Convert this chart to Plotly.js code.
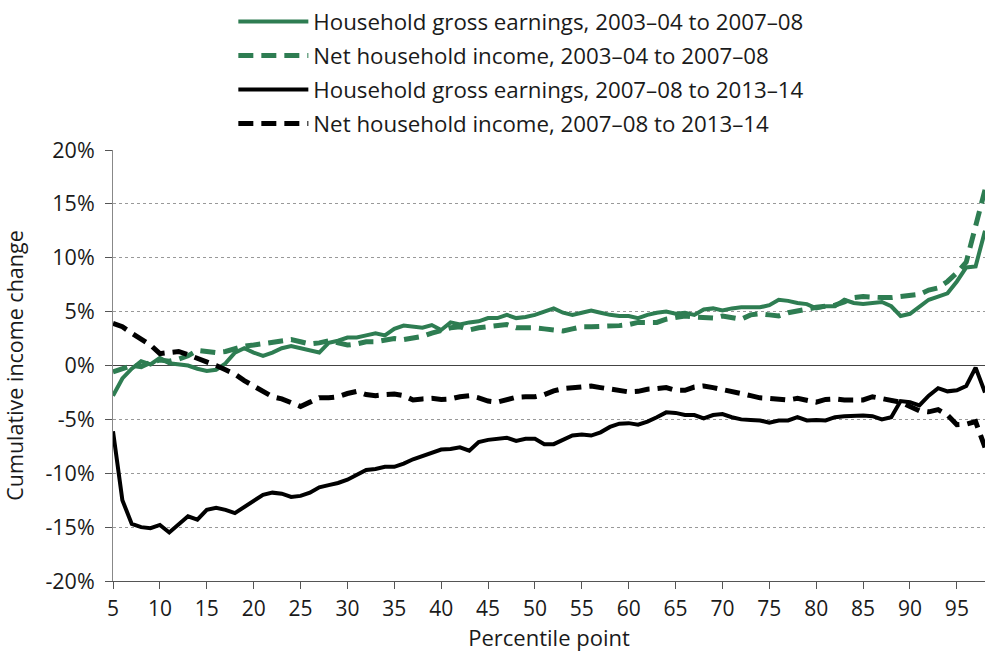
<!DOCTYPE html>
<html>
<head>
<meta charset="utf-8">
<script src="https://cdn.plot.ly/plotly-3.0.1.min.js"></script>
<style>html,body{margin:0;padding:0;background:#fff;}#chart{width:986px;height:652px;}</style>
</head>
<body>
<div id="chart"></div>
<script>
// Percentile points 5..98
const percentiles = [5,6,7,8,9,10,11,12,13,14,15,16,17,18,19,20,21,22,23,24,25,26,27,28,29,30,31,32,33,34,35,36,37,38,39,40,41,42,43,44,45,46,47,48,49,50,51,52,53,54,55,56,57,58,59,60,61,62,63,64,65,66,67,68,69,70,71,72,73,74,75,76,77,78,79,80,81,82,83,84,85,86,87,88,89,90,91,92,93,94,95,96,97,98];

// Household gross earnings, 2003–04 to 2007–08 (%)
const grossEarnings0308 = [-2.8,-1.2,-0.3,0.4,0.1,0.7,0.2,0.1,0.0,-0.3,-0.5,-0.4,0.2,1.2,1.6,1.2,0.9,1.2,1.6,1.8,1.6,1.4,1.2,2.1,2.3,2.6,2.6,2.8,3.0,2.8,3.4,3.7,3.6,3.5,3.75,3.3,4.0,3.8,4.0,4.1,4.4,4.4,4.7,4.4,4.5,4.7,5.0,5.3,4.9,4.7,4.9,5.1,4.9,4.7,4.6,4.6,4.4,4.7,4.9,5.0,4.8,4.9,4.7,5.2,5.3,5.1,5.3,5.4,5.4,5.4,5.6,6.1,6.0,5.8,5.7,5.3,5.5,5.5,6.1,5.8,5.7,5.8,5.9,5.5,4.6,4.8,5.4,6.1,6.4,6.7,7.8,9.1,9.2,12.5];

// Net household income, 2003–04 to 2007–08 (%)
const netIncome0308 = [-0.6,-0.3,0.0,-0.1,0.3,0.5,0.4,0.6,0.9,1.4,1.3,1.2,1.3,1.6,1.8,1.9,2.0,2.1,2.3,2.4,2.2,2.0,2.1,2.3,2.1,1.9,2.0,2.2,2.2,2.4,2.5,2.4,2.5,2.7,3.0,3.3,3.5,3.6,3.3,3.5,3.6,3.8,3.8,3.5,3.55,3.5,3.4,3.3,3.2,3.4,3.6,3.6,3.6,3.6,3.7,3.8,4.0,4.0,4.0,4.3,4.5,4.6,4.5,4.4,4.4,4.6,4.5,4.3,4.7,4.8,4.7,4.6,4.9,5.1,5.3,5.4,5.5,5.6,5.9,6.3,6.4,6.3,6.3,6.3,6.4,6.4,6.6,7.0,7.2,7.8,8.6,9.6,13.0,16.3];

// Household gross earnings, 2007–08 to 2013–14 (%)
const grossEarnings0814 = [-6.1,-12.5,-14.7,-15.0,-15.1,-14.8,-15.5,-14.8,-14.0,-14.3,-13.4,-13.2,-13.4,-13.7,-13.1,-12.5,-12.0,-11.8,-11.9,-12.2,-12.1,-11.8,-11.3,-11.1,-10.9,-10.6,-10.1,-9.7,-9.6,-9.4,-9.4,-9.1,-8.7,-8.4,-8.1,-7.8,-7.75,-7.6,-7.9,-7.1,-6.9,-6.8,-6.7,-7.0,-6.8,-6.8,-7.3,-7.3,-6.9,-6.5,-6.4,-6.5,-6.2,-5.7,-5.4,-5.35,-5.5,-5.2,-4.8,-4.35,-4.4,-4.6,-4.6,-4.9,-4.6,-4.5,-4.8,-5.0,-5.05,-5.1,-5.3,-5.1,-5.1,-4.8,-5.1,-5.05,-5.1,-4.8,-4.7,-4.65,-4.65,-4.7,-5.0,-4.8,-3.3,-3.4,-3.7,-2.8,-2.1,-2.4,-2.3,-1.9,-0.2,-2.5];

// Net household income, 2007–08 to 2013–14 (%)
const netIncome0814 = [3.9,3.6,3.0,2.4,1.9,1.1,1.2,1.3,1.0,0.7,0.3,0.0,-0.4,-0.8,-1.4,-1.9,-2.5,-2.9,-3.1,-3.4,-3.8,-3.4,-3.0,-3.0,-2.9,-2.6,-2.4,-2.7,-2.8,-2.7,-2.65,-2.8,-3.2,-3.1,-3.05,-3.15,-3.1,-2.9,-2.8,-3.0,-3.3,-3.4,-3.2,-2.95,-2.9,-2.9,-2.7,-2.35,-2.15,-2.05,-2.0,-1.9,-2.05,-2.2,-2.4,-2.45,-2.4,-2.2,-2.15,-2.05,-2.3,-2.3,-2.0,-1.9,-2.05,-2.2,-2.4,-2.6,-2.8,-3.0,-3.05,-3.1,-3.2,-3.05,-3.2,-3.4,-3.15,-3.1,-3.2,-3.25,-3.2,-2.9,-3.05,-3.3,-3.4,-3.8,-4.2,-4.3,-4.1,-4.6,-5.5,-5.45,-5.2,-7.6];

const seriesNames = [
  "Household gross earnings, 2003\u201304 to 2007\u201308",
  "Net household income, 2003\u201304 to 2007\u201308",
  "Household gross earnings, 2007\u201308 to 2013\u201314",
  "Net household income, 2007\u201308 to 2013\u201314"
];
const yTickVals = [-20,-15,-10,-5,0,5,10,15,20];
const xTickVals = [5,10,15,20,25,30,35,40,45,50,55,60,65,70,75,80,85,90,95];

const GREEN = "#2e7d52";
const BLACK = "#000000";
const FONT = "Open Sans, Noto Sans, sans-serif";
const TXT = "#1a1a1a";

const seriesData = [grossEarnings0308, netIncome0308, grossEarnings0814, netIncome0814];
const colors = [GREEN, GREEN, BLACK, BLACK];
const dashes = ["solid", "15px,8px", "solid", "15px,8px"];
const widths = [4, 5, 4, 5];

const traces = seriesData.map((vals, i) => ({
  type: "scatter",
  mode: "lines",
  x: percentiles,
  y: vals,
  name: seriesNames[i],
  legendgroup: "g" + i,
  line: {color: colors[i], width: widths[i], dash: dashes[i]},
  hoverinfo: "skip"
}));

const layout = {
  width: 986,
  height: 652,
  margin: {l: 113, r: 1, t: 146, b: 71},
  paper_bgcolor: "#fff",
  plot_bgcolor: "#fff",
  font: {family: FONT, size: 22, color: TXT},
  showlegend: true,
  legend: {
    x: 0.138, xanchor: "left",
    y: 1.347, yanchor: "top",
    bgcolor: "rgba(0,0,0,0)",
    font: {family: FONT, size: 22.3, color: TXT},
    tracegroupgap: 2,
    itemwidth: 70,
    traceorder: "grouped"
  },
  xaxis: {
    range: [5, 98],
    tickvals: xTickVals,
    ticktext: xTickVals.map(String),
    ticks: "outside",
    ticklen: 7,
    tickcolor: "#555",
    showline: true,
    linecolor: "#555",
    linewidth: 1,
    showgrid: false,
    zeroline: false,
    ticklabelstandoff: 2,
    tickfont: {family: FONT, size: 21, color: TXT},
    title: {text: "Percentile point", font: {family: FONT, size: 22, color: TXT}, standoff: 2}
  },
  yaxis: {
    range: [-20, 20],
    tickvals: yTickVals,
    ticktext: yTickVals.map(v => v + "%"),
    ticks: "outside",
    ticklen: 7,
    tickcolor: "#555",
    showline: true,
    linecolor: "#888",
    linewidth: 1,
    showgrid: true,
    gridcolor: "#999",
    griddash: "dot",
    gridwidth: 1,
    zeroline: true,
    zerolinecolor: "#444",
    zerolinewidth: 1.5,
    ticklabelstandoff: 6,
    tickfont: {family: FONT, size: 21.5, color: TXT},
    title: {text: "Cumulative income change", font: {family: FONT, size: 21.5, color: TXT}, standoff: 15}
  }
};

Plotly.newPlot("chart", traces, layout, {staticPlot: true, displayModeBar: false});
</script>
</body>
</html>
